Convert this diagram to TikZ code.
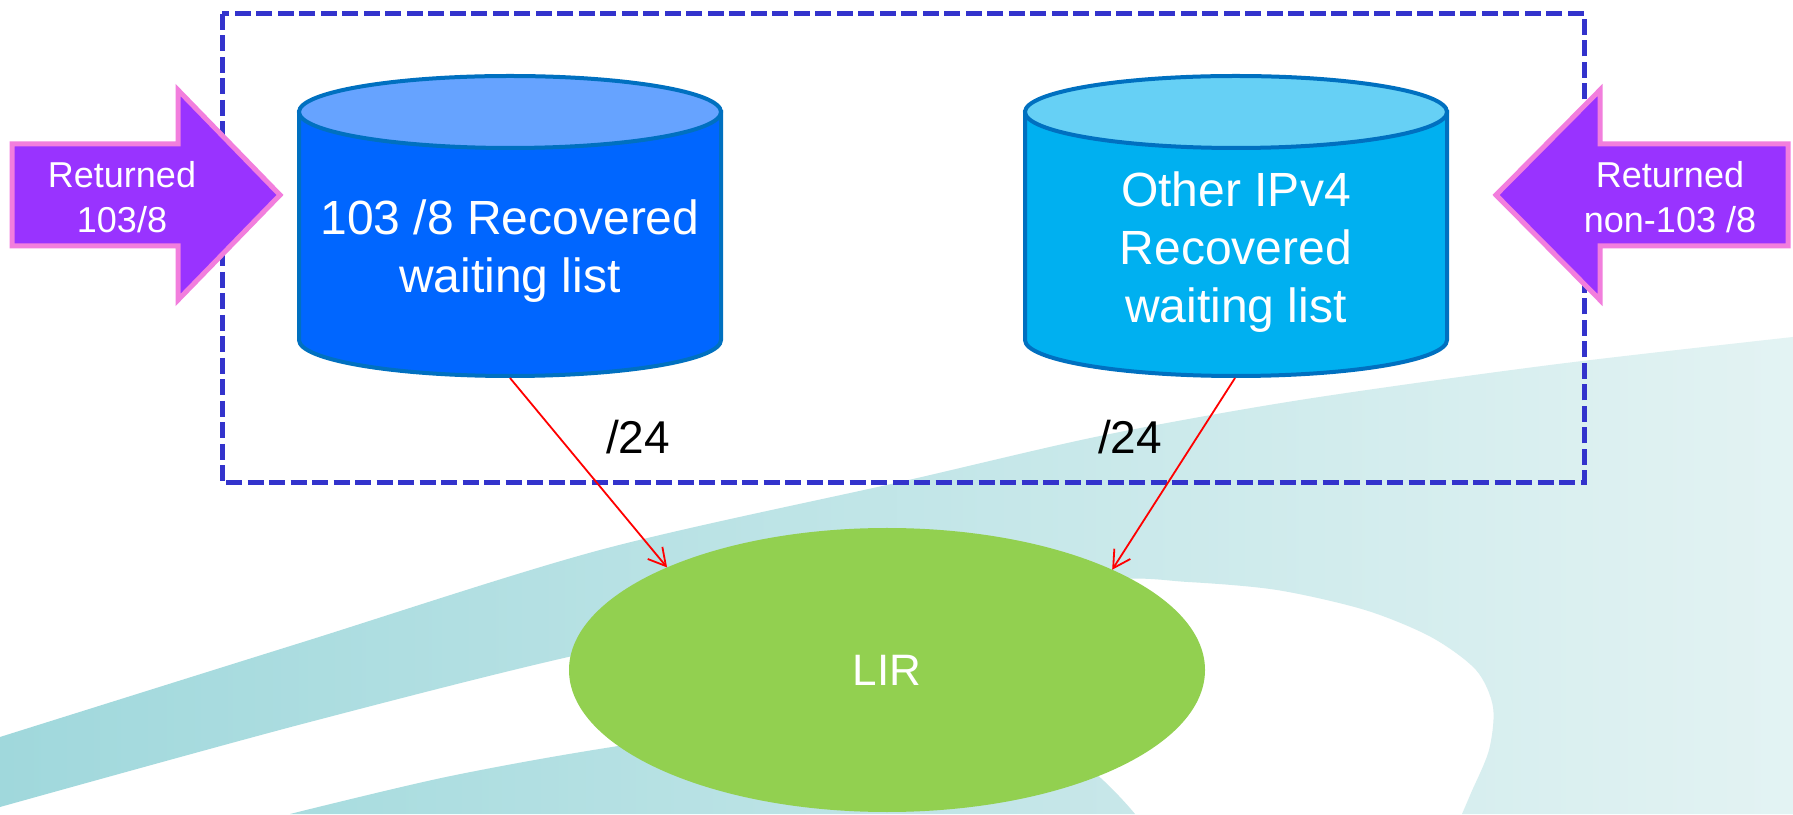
\documentclass[tikz,border=0pt]{standalone}
\usepackage{fontspec}
\setmainfont{Liberation Sans}
\usetikzlibrary{shapes.geometric,arrows.meta}
\definecolor{boxblue}{HTML}{3333CC}
\definecolor{cylline}{HTML}{0070C0}
\definecolor{cAbody}{HTML}{0066FF}
\definecolor{cAtop}{HTML}{66A3FF}
\definecolor{cBbody}{HTML}{00B0F0}
\definecolor{cBtop}{HTML}{66D0F5}
\definecolor{purp}{HTML}{9933FF}
\definecolor{pinkline}{HTML}{F27EDD}
\definecolor{lirgreen}{HTML}{92D050}
\definecolor{bandL}{HTML}{A0D8DC}
\definecolor{bandR}{HTML}{E3F3F3}
\definecolor{bandTwoL}{HTML}{A8DCDF}
\definecolor{bandTwoR}{HTML}{C8E7E9}
\begin{document}
\begin{tikzpicture}[x=1pt,y=1pt,
  cylout/.style={draw=cylline,line width=4pt},
  cyltext/.style={text=white,align=center,inner sep=0pt,font=\fontsize{48}{58}\selectfont},
  arrtext/.style={text=white,align=center,inner sep=0pt,font=\fontsize{36}{45}\selectfont},
  slash/.style={text=black,inner sep=0pt,font=\fontsize{46}{55}\selectfont},
  boxline/.style={draw=boxblue,line width=5pt,dash pattern=on 16pt off 5.5pt},
  purparrow/.style={fill=purp,draw=pinkline,line width=5pt,line join=miter},
  redarrow/.style={draw=red,line width=1.8pt,-{Straight Barb[length=17pt,width=19pt]}},
  lirnode/.style={ellipse,fill=lirgreen,minimum width=636pt,minimum height=284pt,inner sep=0pt,outer sep=0pt,text=white,font=\fontsize{44}{50}\selectfont}]
\useasboundingbox (0,0) rectangle (1793,814);
\fill[white] (0,0) rectangle (1793,814);
% background swooshes
\shade[left color=bandL,right color=bandR]
  plot[smooth] coordinates {(0,77) (300,171) (600,264) (900,332) (1100,378) (1300,414) (1550,449) (1793,477)}
  -- (1793,0) -- plot[smooth] coordinates {(1462,0) (1471,21) (1489,64) (1493,107) (1476,144) (1431,177) (1365,204) (1277,224) (1188,232) (1100,234) (850,205) (600,164) (306,91) (0,7)} -- cycle;
\shade[left color=bandTwoL,right color=bandTwoR]
  plot[smooth] coordinates {(290,0) (446,37) (612,67) (850,100) (1050,70) (1135,0)} -- cycle;
% dashed frame
\draw[boxline] (222,800) rectangle (1584,331);
% left cylinder
\filldraw[cylout,fill=cAbody] (299,702) -- (299,474) arc[start angle=180,end angle=360,x radius=211,y radius=36] -- (721,702) -- cycle;
\filldraw[cylout,fill=cAtop] (510,702) ellipse[x radius=211,y radius=36];
\node[cyltext] (tA) at (510,563) {103 /8 Recovered\\waiting list};
\coordinate (cAb) at (510,436);
% right cylinder
\filldraw[cylout,fill=cBbody] (1025,702) -- (1025,474) arc[start angle=180,end angle=360,x radius=211,y radius=36] -- (1447,702) -- cycle;
\filldraw[cylout,fill=cBtop] (1236,702) ellipse[x radius=211,y radius=36];
\node[cyltext] (tB) at (1236,562) {Other IPv4\\Recovered\\waiting list};
\coordinate (cBb) at (1235,436);
% LIR
\node[lirnode] (lir) at (887,144) {LIR};
% connectors
\draw[redarrow] (cAb) -- (lir.155.7);
\draw[redarrow] (cBb) -- (lir.24.1);
\node[slash] (sA) at (638,377) {/24};
\node[slash] (sB) at (1130,377) {/24};
% purple arrows
\draw[purparrow] (12,670) -- (178,670) -- (178,724) -- (280,619) -- (178,514) -- (178,568) -- (12,568) -- cycle;
\node[arrtext] (rA) at (122,617) {Returned\\103/8};
\draw[purparrow] (1788,670) -- (1600,670) -- (1600,724) -- (1496,619) -- (1600,514) -- (1600,568) -- (1788,568) -- cycle;
\node[arrtext] (rB) at (1670,617) {Returned\\non-103 /8};
\end{tikzpicture}
\end{document}
